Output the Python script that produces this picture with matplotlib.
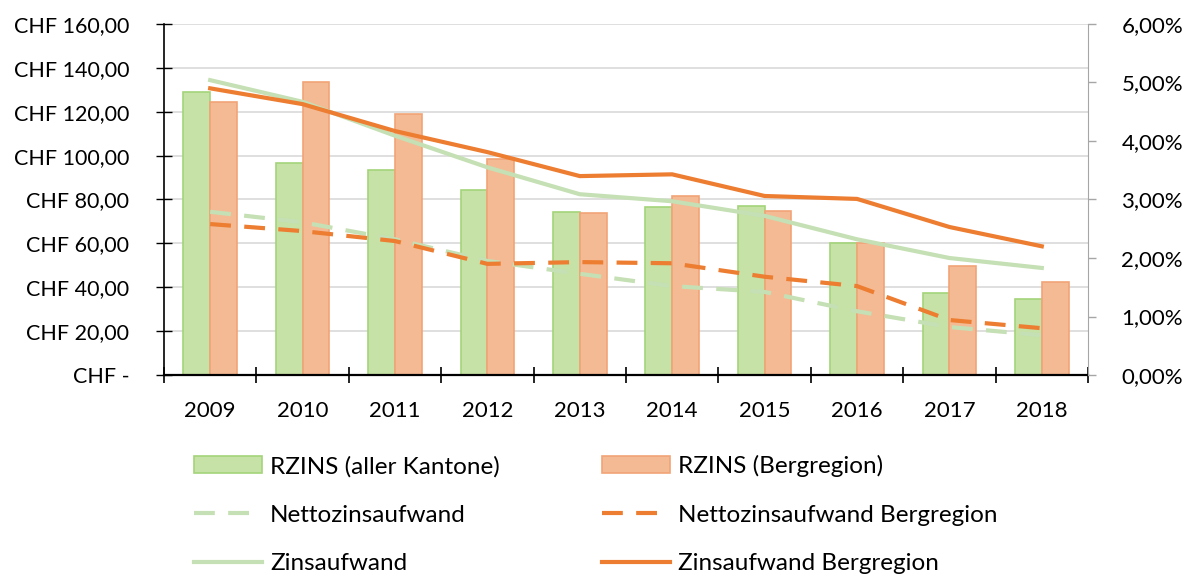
import numpy as np
import matplotlib.pyplot as plt
from matplotlib.ticker import FixedLocator, FuncFormatter

plt.rcParams['font.family'] = ['Lato', 'DejaVu Sans']

# Daten
jahre = ['2009', '2010', '2011', '2012', '2013', '2014', '2015', '2016', '2017', '2018']
rzins_alle = [129.0, 96.6, 93.4, 84.3, 74.3, 76.6, 77.0, 60.2, 37.4, 34.6]
rzins_berg = [124.4, 133.5, 119.0, 98.4, 73.8, 81.6, 74.7, 60.2, 49.7, 42.4]
netto = [2.79, 2.61, 2.32, 1.95, 1.73, 1.52, 1.42, 1.09, 0.82, 0.68]
netto_berg = [2.58, 2.46, 2.29, 1.90, 1.93, 1.91, 1.68, 1.52, 0.94, 0.80]
zins = [5.04, 4.67, 4.09, 3.55, 3.09, 2.97, 2.72, 2.32, 2.00, 1.83]
zins_berg = [4.90, 4.63, 4.17, 3.81, 3.40, 3.43, 3.06, 3.01, 2.53, 2.20]

gruen_bar = '#C6E2A6'
gruen_rand = '#A4D47A'
orange_bar = '#F4BA94'
orange_rand = '#F1A477'
gruen_linie = '#C5E0B4'
orange_linie = '#ED7D31'

fig = plt.figure(figsize=(11.83, 5.75), dpi=100)
ax = fig.add_axes([0.1386, 0.3478, 0.7811, 0.6105])
ax2 = ax.twinx()

x = np.arange(len(jahre))
w = 0.29
b1 = ax.bar(x - w / 2, rzins_alle, w, color=gruen_bar, edgecolor=gruen_rand, linewidth=1.2,
            label='RZINS (aller Kantone)', zorder=2)
b2 = ax.bar(x + w / 2, rzins_berg, w, color=orange_bar, edgecolor=orange_rand, linewidth=1.2,
            label='RZINS (Bergregion)', zorder=2)

l1, = ax2.plot(x, netto, color=gruen_linie, lw=3, dashes=(5, 3.2), label='Nettozinsaufwand')
l2, = ax2.plot(x, netto_berg, color=orange_linie, lw=3, dashes=(5, 3.2),
               label='Nettozinsaufwand Bergregion')
l3, = ax2.plot(x, zins, color=gruen_linie, lw=3, label='Zinsaufwand')
l4, = ax2.plot(x, zins_berg, color=orange_linie, lw=3, label='Zinsaufwand Bergregion')

ax.set_xlim(-0.5, len(jahre) - 0.5)
ax.set_ylim(0, 160)
ax2.set_ylim(0, 6)

ax.set_yticks(np.arange(0, 161, 20))
ax.yaxis.set_major_formatter(FuncFormatter(
    lambda v, p: 'CHF -' if v == 0 else 'CHF ' + f'{v:.2f}'.replace('.', ',')))
ax2.set_yticks(np.arange(0, 7, 1))
ax2.yaxis.set_major_formatter(FuncFormatter(lambda v, p: f'{v:.2f}'.replace('.', ',') + '%'))

ax.set_xticks(x)
ax.set_xticklabels(jahre)
ax.xaxis.set_minor_locator(FixedLocator(np.arange(-0.5, len(jahre), 1)))
ax.tick_params(axis='x', which='major', length=0, labelsize=16, pad=19)
ax.tick_params(axis='x', which='minor', direction='inout', length=12, width=1.2, color='black')
ax.tick_params(axis='y', direction='inout', length=12, width=1, labelsize=15.5, pad=19)
ax2.tick_params(axis='y', direction='out', length=6, width=1, color='#A6A6A6', labelsize=16, pad=18)

ax.grid(axis='y', color='#D9D9D9', lw=1.2)
ax.set_axisbelow(True)
for a in (ax, ax2):
    a.spines['top'].set_visible(False)
ax.spines['right'].set_visible(False)
ax2.spines['left'].set_visible(False)
ax2.spines['bottom'].set_visible(False)
ax2.spines['right'].set_color('#A6A6A6')
ax.spines['left'].set_linewidth(1.2)
ax.spines['bottom'].set_linewidth(1.6)

fig.legend([b1, l1, l3, b2, l2, l4],
           ['RZINS (aller Kantone)', 'Nettozinsaufwand', 'Zinsaufwand',
            'RZINS (Bergregion)', 'Nettozinsaufwand Bergregion', 'Zinsaufwand Bergregion'],
           ncol=2, loc='upper left', bbox_to_anchor=(0.164, 0.208), frameon=False,
           fontsize=17.5, handlelength=2.8, handletextpad=0.33, columnspacing=4.2,
           labelspacing=1.13, borderpad=0, borderaxespad=0)

fig.savefig('out.png', dpi=100)
